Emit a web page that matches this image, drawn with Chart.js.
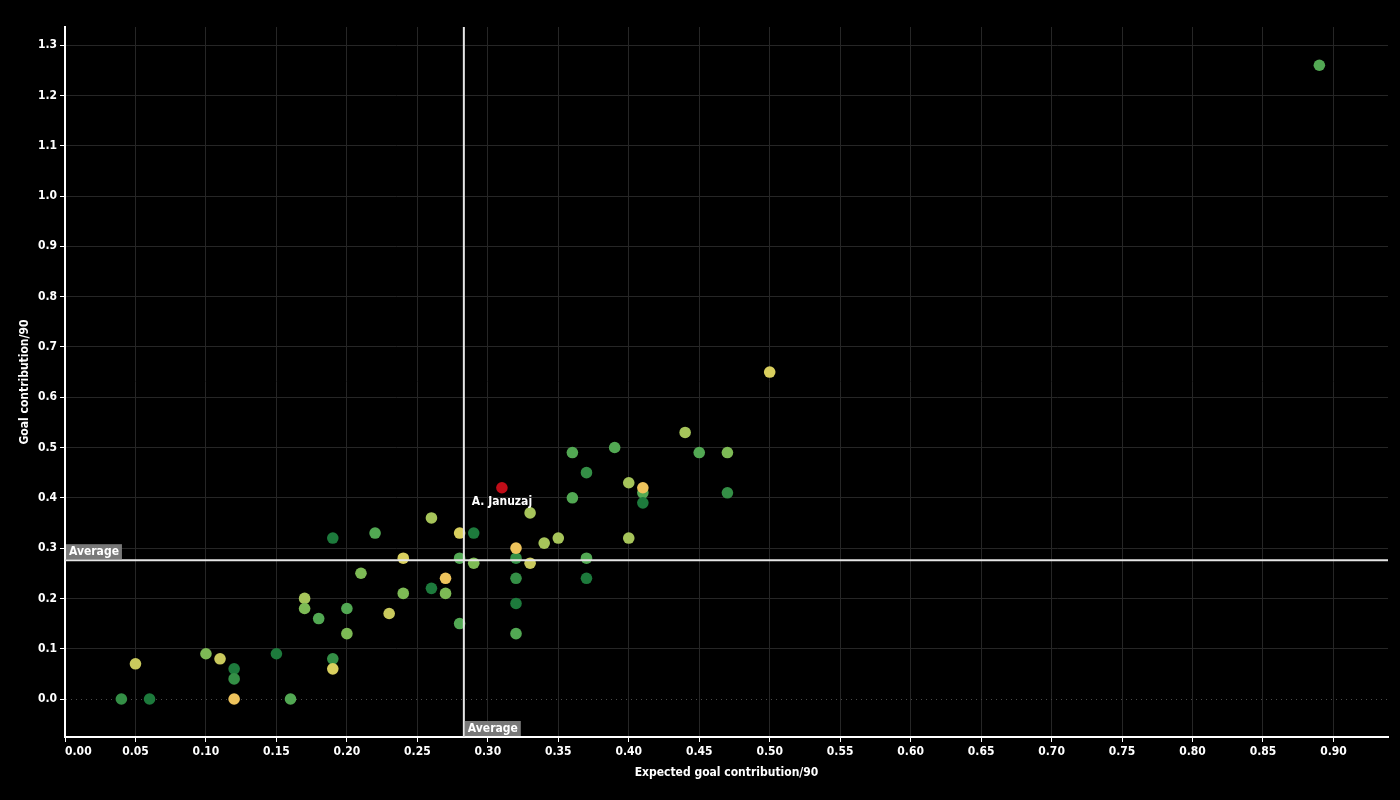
<!DOCTYPE html>
<html><head><meta charset="utf-8">
<script src="https://cdn.jsdelivr.net/npm/chart.js@4"></script>
<style>html,body{margin:0;padding:0;background:#000;overflow:hidden}#wrap{width:1400px;height:800px;position:relative}</style>
</head><body><div id="wrap"><canvas id="c"></canvas></div>
<script>
// ---- data ----
const xgc90 = [0.04,0.06,0.05,0.10,0.11,0.12,0.12,0.12,0.15,0.16,0.17,0.17,0.18,0.19,0.19,0.19,0.20,0.20,0.21,0.22,0.23,0.24,0.24,0.26,0.26,0.27,0.27,0.28,0.28,0.28,0.29,0.29,0.32,0.32,0.32,0.32,0.32,0.33,0.33,0.34,0.35,0.36,0.36,0.37,0.37,0.37,0.39,0.40,0.40,0.41,0.41,0.41,0.44,0.45,0.47,0.47,0.50,0.89];
const gc90   = [0.00,0.00,0.07,0.09,0.08,0.06,0.04,0.00,0.09,0.00,0.20,0.18,0.16,0.32,0.08,0.06,0.18,0.13,0.25,0.33,0.17,0.28,0.21,0.36,0.22,0.24,0.21,0.33,0.28,0.15,0.33,0.27,0.28,0.24,0.19,0.13,0.30,0.37,0.27,0.31,0.32,0.49,0.40,0.45,0.28,0.24,0.50,0.43,0.32,0.41,0.39,0.42,0.53,0.49,0.49,0.41,0.65,1.26];
const tier   = [1,0,5,3,5,0,1,7,0,2,4,3,2,0,1,6,2,3,3,2,5,6,3,4,0,7,3,6,2,2,0,3,1,1,0,2,7,4,5,4,4,2,2,1,2,0,2,4,4,2,0,7,4,2,3,1,6,2];
const highlightName = 'A. Januzaj';
const highlightX = 0.31;
const highlightY = 0.42;
const averageX = 0.283;
const averageY = 0.276;
const xTickValues = [0,0.05,0.10,0.15,0.20,0.25,0.30,0.35,0.40,0.45,0.50,0.55,0.60,0.65,0.70,0.75,0.80,0.85,0.90];
const yTickValues = [0,0.1,0.2,0.3,0.4,0.5,0.6,0.7,0.8,0.9,1.0,1.1,1.2,1.3];
const xMin = 0, xMax = 0.9387, yMin = -0.0755, yMax = 1.336;

// ---- styles ----
const palette = ['#1d7a3c','#348f46','#52a853','#7dba55','#a6c45a','#c9c95d','#d9cf5e','#eec35c'];
const highlightColor = '#c00d18';
const FONT = "'DejaVu Sans Condensed','Liberation Sans Narrow','Roboto',sans-serif";

const points = xgc90.map((x,i)=>({x:x,y:gc90[i]}));

const overlay = {
  id:'overlay',
  afterDatasetsDraw(chart){
    const {ctx, chartArea:a, scales:{x, y}} = chart;
    const px = x.getPixelForValue(averageX), py = y.getPixelForValue(averageY);
    ctx.save();
    ctx.strokeStyle = '#e6e6e6'; ctx.lineWidth = 2;
    ctx.beginPath(); ctx.moveTo(a.left, py); ctx.lineTo(a.right, py); ctx.stroke();
    ctx.beginPath(); ctx.moveTo(px, a.top); ctx.lineTo(px, a.bottom); ctx.stroke();
    ctx.font = "bold 12px " + FONT;
    ctx.textBaseline = 'middle'; ctx.textAlign = 'left';
    const w = ctx.measureText('Average').width + 6;
    ctx.fillStyle = 'rgba(128,128,128,0.95)';
    ctx.fillRect(a.left+1, py-16, w, 15);
    ctx.fillRect(px+1, a.bottom-16, w, 15);
    ctx.fillStyle = '#fff';
    ctx.fillText('Average', a.left+4, py-8.5);
    ctx.fillText('Average', px+4, a.bottom-8.5);
    // highlight label
    const hx = x.getPixelForValue(highlightX), hy = y.getPixelForValue(highlightY);
    ctx.textAlign = 'center';
    ctx.fillText(highlightName, hx, hy+14);
    ctx.restore();
  }
};

const bg = {
  id:'bg',
  beforeDraw(chart){ const c=chart.ctx; c.save(); c.fillStyle='#000'; c.fillRect(0,0,chart.width,chart.height); c.restore(); }
};

new Chart(document.getElementById('c'), {
  type:'scatter',
  data:{ datasets:[
    { data: points, pointBackgroundColor: tier.map(t=>palette[t]), pointBorderWidth:0, pointRadius:5.8, pointHoverRadius:5.8 },
    { data: [{x:highlightX, y:highlightY}], pointBackgroundColor: highlightColor, pointBorderWidth:0, pointRadius:5.8 }
  ]},
  options:{
    responsive:true, maintainAspectRatio:false, animation:false,
    layout:{ padding:{ top:27, right:12, left:0, bottom:0 } },
    plugins:{ legend:{display:false}, tooltip:{enabled:false} },
    scales:{
      x:{
        type:'linear', min:xMin, max:xMax,
        afterBuildTicks(s){ s.ticks = xTickValues.map(v=>({value:v})).concat([{value:xMax}]); },
        afterFit(s){ s.height = 63; },
        ticks:{ color:'#fff', align:'inner', autoSkip:false, maxRotation:0, padding:3,
          font:{ family:FONT, size:12, weight:'bold' },
          callback(v){ return v === xMax ? '' : Number(v).toFixed(2); } },
        grid:{ color:(c)=> (c.tick && c.tick.value===xMax) ? 'rgba(0,0,0,0)' : '#262626', tickColor:(c)=> (c.tick && c.tick.value===xMax) ? 'rgba(0,0,0,0)' : '#fff', tickLength:5, lineWidth:1 },
        border:{ color:'#fff', width:2 },
        title:{ display:true, text:'Expected goal contribution/90', color:'#fff', font:{ family:FONT, size:12, weight:'bold' }, padding:{ top:0, bottom:20 } }
      },
      y:{
        type:'linear', min:yMin, max:yMax,
        afterBuildTicks(s){ s.ticks = yTickValues.map(v=>({value:v})); },
        afterFit(s){ s.width = 65; },
        ticks:{ color:'#fff', autoSkip:false, padding:3,
          font:{ family:FONT, size:12, weight:'bold' },
          callback(v){ return Number(v).toFixed(1); } },
        grid:{ color:(c)=> (c.tick && c.tick.value===0) ? '#4a4a4a' : '#262626', tickColor:'#fff', tickLength:5, lineWidth:1 },
        border:{ color:'#fff', width:2, dash:(c)=> (c.tick && c.tick.value===0) ? [1,4] : [] },
        title:{ display:true, text:'Goal contribution/90', color:'#fff', font:{ family:FONT, size:12, weight:'bold' }, padding:{ top:18, bottom:0 } }
      }
    }
  },
  plugins:[bg, overlay]
});
</script></body></html>
